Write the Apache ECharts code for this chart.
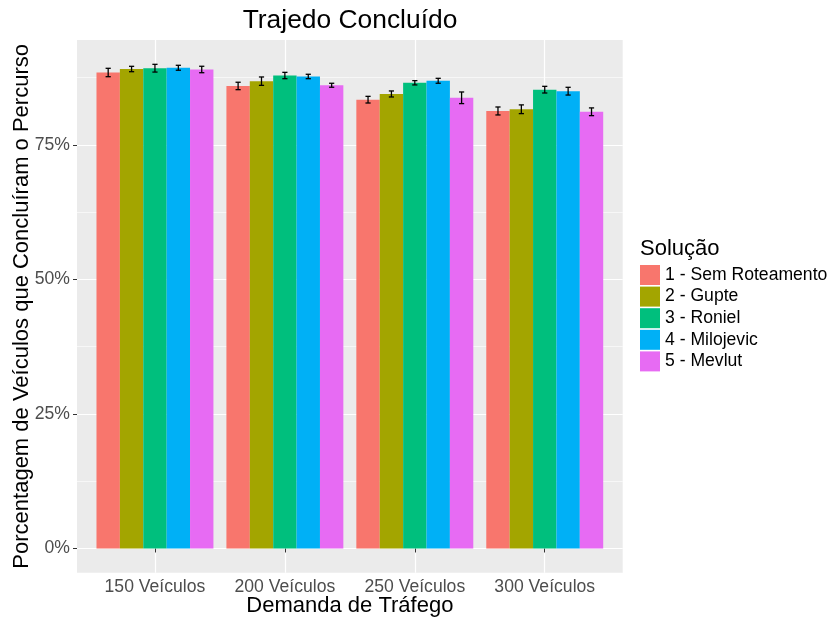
<!DOCTYPE html>
<html>
<head>
<meta charset="utf-8">
<title>Trajedo Concluído</title>
<script src="https://cdn.jsdelivr.net/npm/echarts@6/dist/echarts.min.js"></script>
<style>
  html, body { margin: 0; padding: 0; background: #fff; }
  #chart { width: 829px; height: 617px; }
</style>
</head>
<body>
<div id="chart"></div>
<script>
// Categories (traffic demand) and legend entries
const categories = ['150 Veículos', '200 Veículos', '250 Veículos', '300 Veículos'];
const solutions = ['1 - Sem Roteamento', '2 - Gupte', '3 - Roniel', '4 - Milojevic', '5 - Mevlut'];

// Mean share of vehicles that completed the route (%) and error half-widths
const semRoteamento    = [88.46, 85.96, 83.41, 81.31];
const semRoteamentoErr = [0.78, 0.69, 0.62, 0.74];
const gupte            = [89.11, 86.85, 84.47, 81.63];
const gupteErr         = [0.50, 0.78, 0.56, 0.81];
const roniel           = [89.26, 87.90, 86.55, 85.27];
const ronielErr        = [0.72, 0.59, 0.40, 0.62];
const milojevic        = [89.34, 87.72, 86.92, 84.99];
const milojevicErr     = [0.46, 0.41, 0.46, 0.72];
const mevlut           = [89.02, 86.09, 83.76, 81.16];
const mevlutErr        = [0.60, 0.37, 1.08, 0.72];

// Tick labels
const yMajorTicks = [0, 25, 50, 75];
const yMinorTicks = [12.5, 37.5, 62.5, 87.5];
const xTicks = [1, 2, 3, 4];

const values = [semRoteamento, gupte, roniel, milojevic, mevlut];
const errors = [semRoteamentoErr, gupteErr, ronielErr, milojevicErr, mevlutErr];
const colors = ['#F8766D', '#A3A500', '#00BF7D', '#00B0F6', '#E76BF3'];

const FONT = '"Liberation Sans", Arial, sans-serif';
const GROUP_WIDTH = 0.9;               // dodge width in category units
const BAR_W = GROUP_WIDTH / solutions.length;
const CAP_HALF = 0.02;                 // error bar cap half-width

function makeSeries(k) {
  const offset = (k - (solutions.length - 1) / 2) * BAR_W;
  return {
    name: solutions[k],
    type: 'custom',
    itemStyle: { color: colors[k] },
    encode: { x: 0, y: 1 },
    data: categories.map((c, i) => [xTicks[i], values[k][i], errors[k][i]]),
    renderItem: function (params, api) {
      const xc = api.value(0) + offset;
      const v = api.value(1);
      const e = api.value(2);
      const tl = api.coord([xc - BAR_W / 2, v]);
      const br = api.coord([xc + BAR_W / 2, 0]);
      const top = api.coord([xc, v + e]);
      const bot = api.coord([xc, v - e]);
      const capL = api.coord([xc - CAP_HALF, v])[0];
      const capR = api.coord([xc + CAP_HALF, v])[0];
      const errStyle = { stroke: '#000', lineWidth: 1.3 };
      return {
        type: 'group',
        children: [
          { type: 'rect', shape: { x: tl[0], y: tl[1], width: br[0] - tl[0], height: br[1] - tl[1] },
            style: { fill: api.visual('color') } },
          { type: 'line', z2: 10, shape: { x1: top[0], y1: top[1], x2: bot[0], y2: bot[1] }, style: errStyle },
          { type: 'line', z2: 10, shape: { x1: capL, y1: top[1], x2: capR, y2: top[1] }, style: errStyle },
          { type: 'line', z2: 10, shape: { x1: capL, y1: bot[1], x2: capR, y2: bot[1] }, style: errStyle }
        ]
      };
    }
  };
}

const chart = echarts.init(document.getElementById('chart'), null, { renderer: 'canvas' });

chart.setOption({
  animation: false,
  backgroundColor: '#ffffff',
  textStyle: { fontFamily: FONT },
  title: [
    { text: 'Trajedo Concluído', left: 350, top: 8, textAlign: 'center', padding: 0,
      textStyle: { fontFamily: FONT, fontSize: 26.4, fontWeight: 'normal', color: '#000' } },
    { text: 'Solução', left: 640, top: 238, padding: 0,
      textStyle: { fontFamily: FONT, fontSize: 22, fontWeight: 'normal', color: '#000' } }
  ],
  legend: {
    data: solutions,
    orient: 'vertical',
    left: 640,
    top: 265,
    padding: 0,
    itemGap: 1.6,
    itemWidth: 20,
    itemHeight: 20,
    icon: 'rect',
    selectedMode: false,
    textStyle: { fontFamily: FONT, fontSize: 17.6, color: '#000', lineHeight: 20 }
  },
  grid: {
    left: 77, right: 206.3, top: 40, bottom: 44.3,
    outerBoundsMode: 'none',
    containLabel: false,
    show: true, backgroundColor: '#EBEBEB', borderWidth: 0
  },
  xAxis: {
    type: 'value',
    min: 0.4, max: 4.6,
    name: 'Demanda de Tráfego',
    nameLocation: 'middle',
    nameGap: 22,
    nameMoveOverlap: false,
    nameTextStyle: { fontFamily: FONT, fontSize: 22, color: '#000' },
    axisLine: { show: false },
    axisTick: { show: true, length: 4, customValues: xTicks, lineStyle: { color: '#333', width: 1 } },
    axisLabel: { customValues: xTicks, margin: 5, fontFamily: FONT, fontSize: 17.6, color: '#4D4D4D',
      formatter: v => categories[Math.round(v) - 1] },
    splitLine: { show: true, lineStyle: { color: '#FFFFFF', width: 1.2 } }
  },
  yAxis: [
    {
      type: 'value',
      min: -4.5, max: 94.5,
      name: 'Porcentagem de Veículos que Concluíram o Percurso',
      nameLocation: 'middle',
      nameGap: 44,
      nameMoveOverlap: false,
      nameTextStyle: { fontFamily: FONT, fontSize: 22, color: '#000' },
      axisLine: { show: false },
      axisTick: { show: true, length: 4, customValues: yMajorTicks, lineStyle: { color: '#333', width: 1 } },
      axisLabel: { customValues: yMajorTicks, margin: 7, fontFamily: FONT, fontSize: 17.6, color: '#4D4D4D',
        formatter: v => v + '%' },
      splitLine: { show: true, lineStyle: { color: '#FFFFFF', width: 1.2 } }
    },
    {
      type: 'value',
      min: -4.5, max: 94.5,
      position: 'left',
      axisLine: { show: false },
      axisTick: { show: false, customValues: yMinorTicks },
      axisLabel: { show: false, customValues: yMinorTicks },
      splitLine: { show: true, lineStyle: { color: '#FFFFFF', width: 0.6 } }
    }
  ],
  series: solutions.map((s, k) => makeSeries(k))
});
</script>
</body>
</html>
